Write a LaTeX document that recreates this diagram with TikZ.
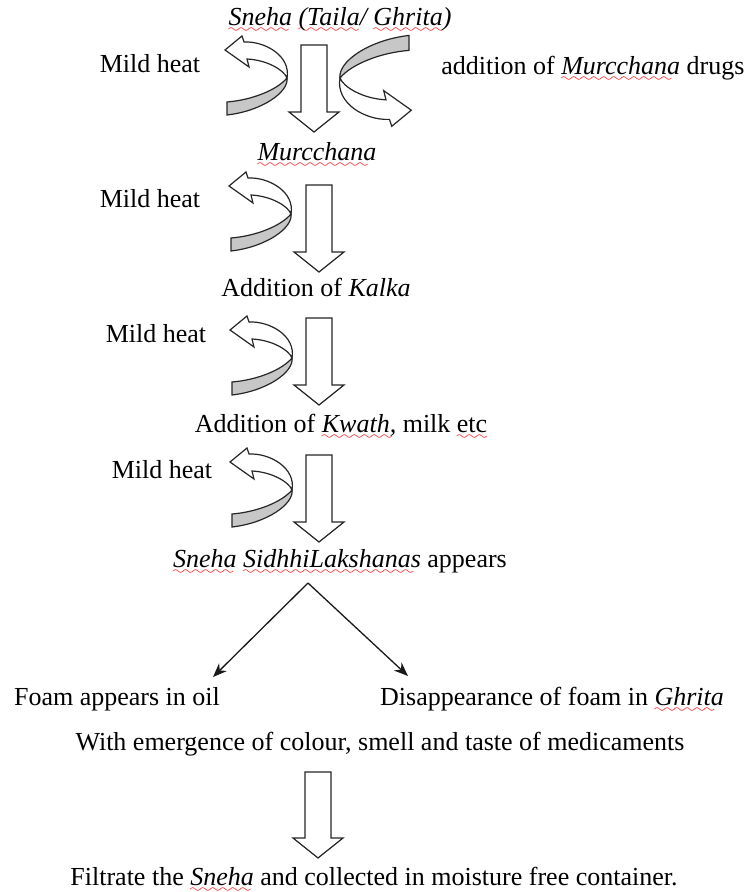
\documentclass[tikz,border=0pt]{standalone}
\usepackage{fontspec}
\setmainfont{Liberation Serif}
\usepackage{tikz}
\usetikzlibrary{arrows.meta}

% red spell-check wave under a word
\font\wavefont=lasy6
\newcommand\spell[1]{\setbox0\hbox{#1}\rlap{\hbox to \wd0{\leaders\hbox{\textcolor{red}{\lower3.5pt\hbox{\wavefont\char58}}}\hfill}}\box0\relax}

% block arrow pointing down: centre x, top, tip
\newcommand\blockdown[3]{%
  \draw[block] (#1-13,#2) -- (#1+13,#2) -- (#1+13,#3-20) -- (#1+25,#3-20) -- (#1,#3)
    -- (#1-25,#3-20) -- (#1-13,#3-20) -- cycle;}

\tikzset{
  txt/.style={anchor=base, inner sep=0pt, font=\fontsize{13}{15}\selectfont},
  block/.style={draw=black!85, fill=white, line width=0.6pt},
  thin/.style={draw=black!90, line width=0.65pt, -{Stealth[length=7pt, width=5.5pt]}},
  curl/.pic={
    % upper half with the head
    \draw[block] (-62,-28) -- (-45,-42) -- (-43,-36) .. controls (-22,-37) and (4,-22) .. (0,0)
      .. controls (-3,-8) and (-20,-18) .. (-40,-19) -- (-38,-11) -- cycle;
    % lower grey half
    \draw[block, fill=black!22] (0,0) .. controls (2,14) and (-25,33) .. (-60,37) -- (-60,24)
      .. controls (-35,22) and (-10,12) .. (0,0) -- cycle;
  }
}

\begin{document}
\begin{tikzpicture}[x=0.5pt, y=-0.5pt]
  \useasboundingbox (0,0) rectangle (744,892);

  \node[txt] (top) at (340,26) {\textit{\spell{Sneha} \spell{(Taila/} \spell{Ghrita)}}};
  \node[txt] (heatA) at (150,73) {Mild heat};
  \node[txt, anchor=base west] (addmur) at (441,75) {addition of \textit{\spell{Murcchana}} drugs};
  \pic at (287,78) {curl};
  \pic[rotate=180, scale=1.15] at (340,78) {curl};
  \blockdown{314}{45}{132}

  \node[txt] (murc) at (317,161) {\textit{\spell{Murcchana}}};
  \node[txt] (heatB) at (150,208) {Mild heat};
  \pic at (291,214) {curl};
  \blockdown{319}{185}{272}

  \node[txt] (kalka) at (316,297) {Addition of \textit{Kalka}};
  \node[txt] (heatC) at (156,343) {Mild heat};
  \pic at (292,358) {curl};
  \blockdown{319}{318}{405}

  \node[txt] (kwath) at (341,432) {Addition of \textit{\spell{Kwath,}} milk \spell{etc}};
  \node[txt] (heatD) at (162,478) {Mild heat};
  \pic at (292,490) {curl};
  \blockdown{319}{455}{542}

  \node[txt] (siddhi) at (340,567) {\textit{\spell{Sneha} \spell{SidhhiLakshanas}} appears};
  \coordinate (split) at (308,583);
  \coordinate (lefttip) at (213,677);
  \coordinate (righttip) at (408,676);
  \draw[thin] (split) -- (lefttip);
  \draw[thin] (split) -- (righttip);

  \node[txt] (foam) at (117,705) {Foam appears in oil};
  \node[txt] (ghrita) at (552,705) {Disappearance of foam in \textit{\spell{Ghrita}}};
  \node[txt] (emerge) at (380,750) {With emergence of colour, smell and taste of medicaments};
  \blockdown{318}{772}{858}
  \node[txt] (filtrate) at (374,885) {Filtrate the \textit{\spell{Sneha}} and collected in moisture free container.};
\end{tikzpicture}
\end{document}
